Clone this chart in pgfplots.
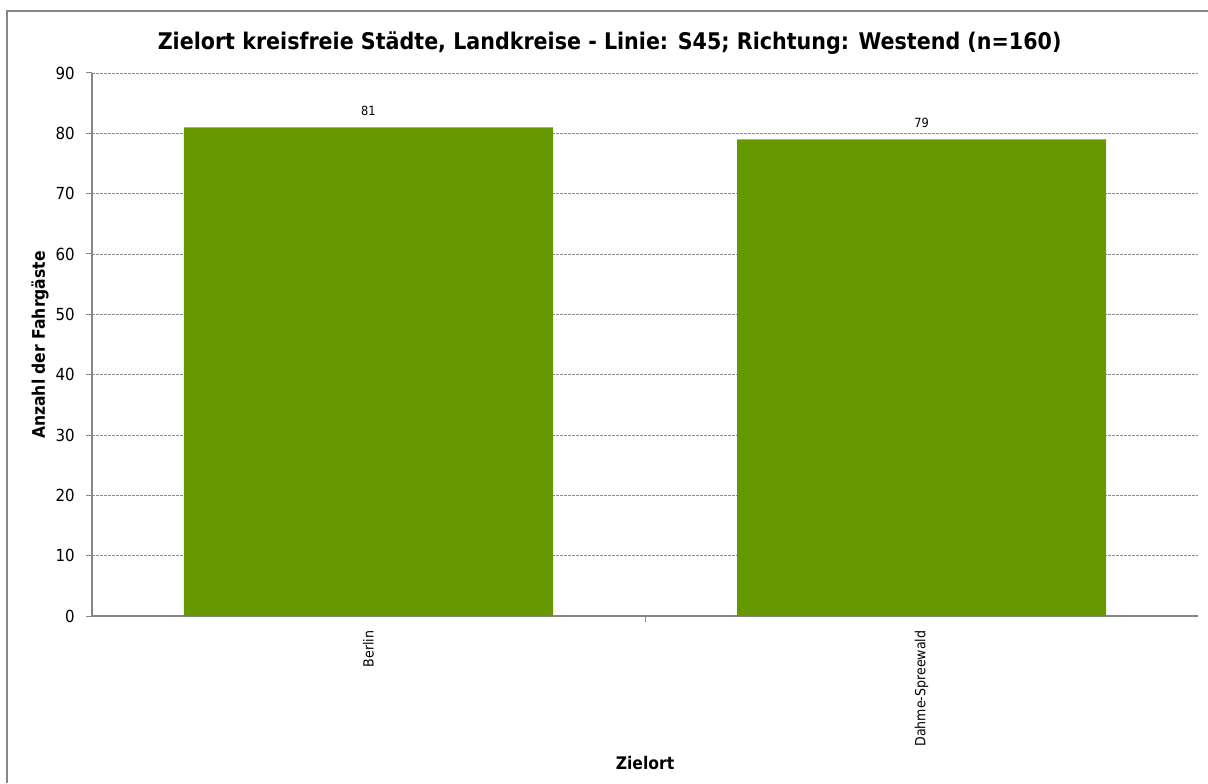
\documentclass[border=0pt]{standalone}
\usepackage{fontspec}
\setmainfont{DejaVu Sans}[FakeStretch=0.9]
\usepackage{pgfplots}
\pgfplotsset{compat=1.18}
\definecolor{bargreen}{HTML}{669900}
\definecolor{framegray}{HTML}{868686}
\definecolor{gridgray}{HTML}{8C8C8C}

\begin{document}
\begin{tikzpicture}[x=0.75pt,y=0.75pt]
% picture is 1208 x 783 px, 1px = 0.75pt
\useasboundingbox (0,0) rectangle (1208,783);
\draw[framegray, line width=0.9pt] (7,0) -- (7,772) -- (1208,772);

\begin{axis}[
  at={(69pt,125.25pt)}, anchor=south west,
  scale only axis,
  width=829.5pt, height=407.25pt,
  xmin=-0.5, xmax=1.5,
  ymin=0, ymax=90,
  ytick={0,10,...,90},
  xtick={0,1},
  xticklabels={Berlin, Dahme-Spreewald},
  minor xtick={0.5},
  major x tick style={draw=none},
  tick align=outside,
  major tick length=4.5pt,
  minor tick length=4.5pt,
  tick style={framegray, line width=0.75pt},
  axis x line*=bottom,
  axis y line*=left,
  axis line style={framegray, line width=0.9pt, -},
  ymajorgrids,
  grid style={gridgray, dash pattern=on 2pt off 1pt, line width=0.5pt},
  /pgf/number format/assume math mode=true,
  yticklabel style={font=\fontsize{12.5}{14}\selectfont, xshift=-5pt},
  xticklabel style={font=\fontsize{10.5}{12}\selectfont, rotate=90, anchor=east, xshift=-3pt},
  ybar, bar width=276.75pt,
  nodes near coords,
  nodes near coords style={font=\fontsize{9.5}{11}\selectfont, anchor=south, yshift=5pt, text=black},
  title={\bfseries Zielort kreisfreie Städte, Landkreise - Linie: S45; Richtung: Westend (n=160)},
  title style={font=\fontsize{17.2}{20}\selectfont, at={(axis description cs:0.468,1.040)}, anchor=center},
  xlabel={\bfseries Zielort},
  xlabel style={font=\fontsize{13}{15}\selectfont, at={(axis description cs:0.5,-0.2707)}, anchor=center},
  ylabel={\bfseries Anzahl der Fahrgäste},
  ylabel style={font=\fontsize{13}{15}\selectfont, at={(axis description cs:-0.047,0.499)}, anchor=center, rotate=0},
]
\addplot[fill=bargreen, draw=none, bar shift=0pt] coordinates {(0,81) (1,79)};
\end{axis}
\end{tikzpicture}
\end{document}
